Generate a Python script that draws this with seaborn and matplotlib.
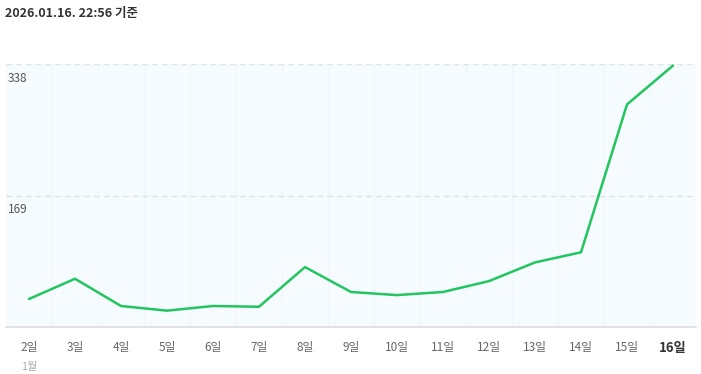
import numpy as np
import pandas as pd
import seaborn as sns
import matplotlib.pyplot as plt
from matplotlib.ticker import FixedLocator

# data
days = ["2일", "3일", "4일", "5일", "6일", "7일", "8일", "9일",
        "10일", "11일", "12일", "13일", "14일", "15일", "16일"]
counts = [36, 62, 27, 21, 27, 26, 77, 45, 41, 45, 59, 83, 96, 286, 336]
ytick_vals = [169, 338]
title = "2026.01.16. 22:56 기준"
month_label = "1월"

df = pd.DataFrame({"day": days, "count": counts})

sns.set_theme(style="white")
plt.rcParams["font.family"] = ["Noto Sans CJK KR", "DejaVu Sans"]

fig = plt.figure(figsize=(7.01, 3.74), dpi=100)
ax = fig.add_axes([6 / 701, 47 / 374, 690 / 701, 263 / 374])
ax.set_facecolor("#f5fbff")

sns.lineplot(data=df, x="day", y="count", ax=ax, color="#22c55e",
             linewidth=1.8, sort=False)

ax.set_xlim(-0.5, len(days) - 0.5)
ax.set_ylim(0, 338)

# vertical cell separators
ax.xaxis.set_minor_locator(FixedLocator(np.arange(len(days) - 1) + 0.5))
ax.grid(which="minor", axis="x", color="#f0f6fa", linewidth=1)
for v in ytick_vals:
    ax.axhline(v, color="#dbe5ea", linewidth=1, linestyle=(0, (4, 3)), zorder=1)
    ax.text(2 / 690, v - 10, str(v), transform=ax.get_yaxis_transform(),
            ha="left", va="top", fontsize=8.5, color="#555555")

for s in ["top", "left", "right"]:
    ax.spines[s].set_visible(False)
ax.spines["bottom"].set_color("#dddddd")
ax.spines["bottom"].set_linewidth(1.2)

ax.set_yticks([])
ax.set_xticks(range(len(days)))
ax.set_xticklabels(days)
ax.tick_params(axis="x", which="both", length=0, pad=10, labelsize=8.5,
               labelcolor="#666666")
lbls = ax.get_xticklabels()
lbls[-1].set_fontweight("bold")
lbls[-1].set_color("#333333")
lbls[-1].set_fontsize(9.5)
ax.set_xlabel("")
ax.set_ylabel("")

ax.annotate(month_label, xy=(0, 0), xycoords=("data", "axes fraction"),
            xytext=(0, -29), textcoords="offset points",
            ha="center", va="center", fontsize=8, color="#aaaaaa")

fig.text(5 / 701, 1 - 14 / 374, title, ha="left", va="center",
         fontsize=9, fontweight="bold", color="#333333")

fig.savefig("out.png", dpi=100)
